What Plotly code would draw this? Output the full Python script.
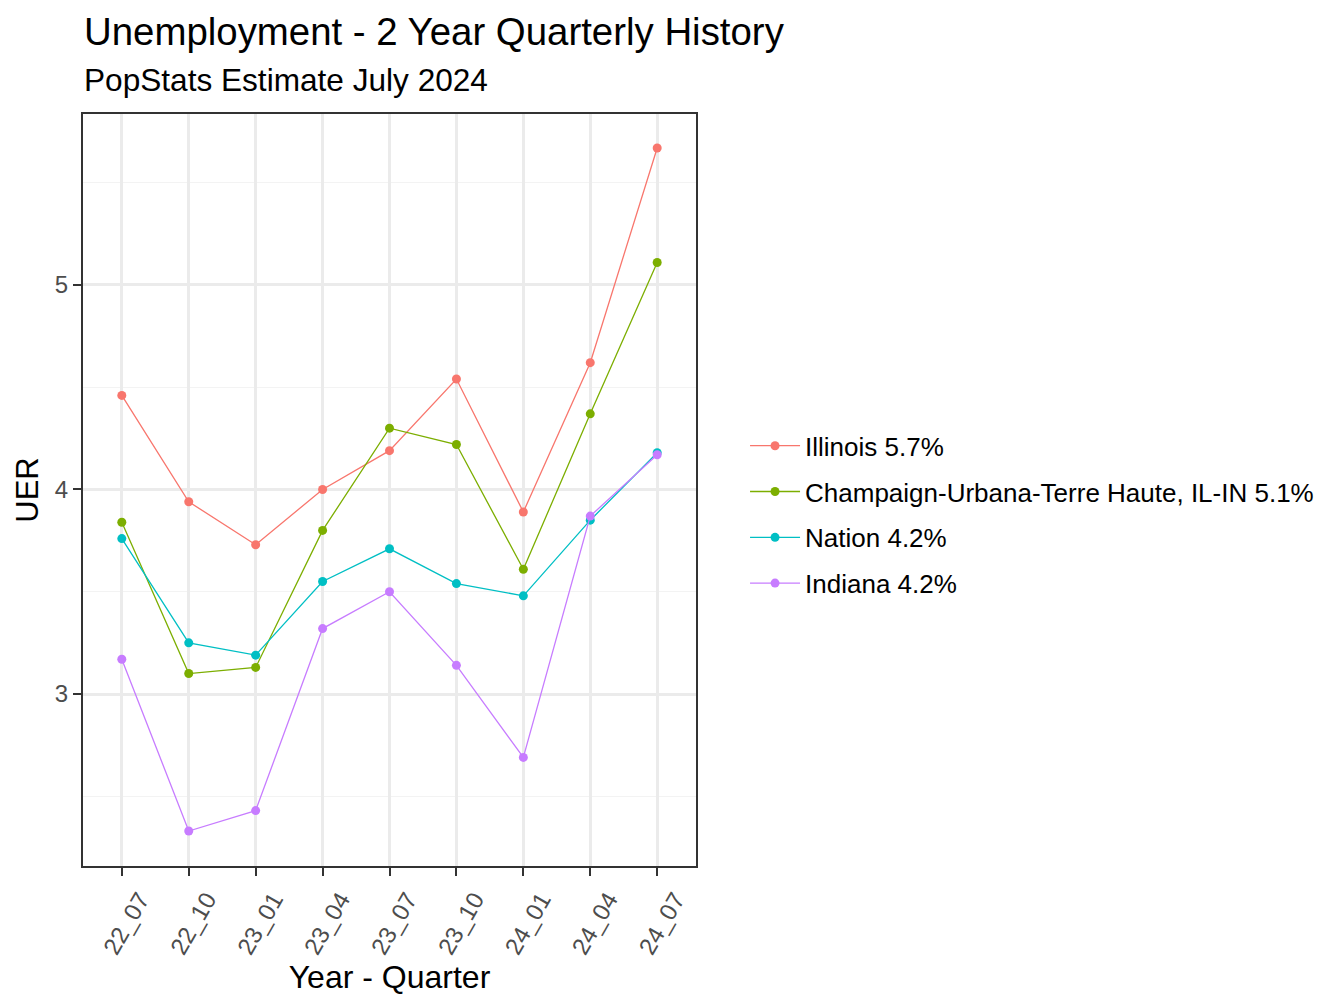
import plotly.graph_objects as go

quarters = ["22_07", "22_10", "23_01", "23_04", "23_07", "23_10", "24_01", "24_04", "24_07"]

illinois = [4.46, 3.94, 3.73, 4.00, 4.19, 4.54, 3.89, 4.62, 5.67]
champaign = [3.84, 3.10, 3.13, 3.80, 4.30, 4.22, 3.61, 4.37, 5.11]
nation = [3.76, 3.25, 3.19, 3.55, 3.71, 3.54, 3.48, 3.85, 4.18]
indiana = [3.17, 2.33, 2.43, 3.32, 3.50, 3.14, 2.69, 3.87, 4.17]

series_names = ["Illinois 5.7%", "Champaign-Urbana-Terre Haute, IL-IN 5.1%",
                "Nation 4.2%", "Indiana 4.2%"]
series_vals = [illinois, champaign, nation, indiana]
colors = ["#F8766D", "#7CAE00", "#00BFC4", "#C77CFF"]

fig = go.Figure()
for name, vals, col in zip(series_names, series_vals, colors):
    fig.add_trace(go.Scatter(x=quarters, y=vals, name=name, legendgroup=name,
                             mode="lines+markers",
                             line=dict(color=col, width=1.3),
                             marker=dict(color=col, size=9)))

# page is offset by the 8px body margin, so margins are shifted
fig.update_layout(
    width=1344, height=1008,
    margin=dict(l=75, r=656, t=106, b=150),
    plot_bgcolor="white", paper_bgcolor="white",
    font=dict(family="Liberation Sans, Arial", color="black"),
    showlegend=True,
    legend=dict(x=1.08, y=0.467, xanchor="left", yanchor="middle",
                font=dict(size=26, color="black"), tracegroupgap=9,
                itemwidth=50, bgcolor="rgba(0,0,0,0)"),
)
fig.update_xaxes(
    showline=True, linecolor="#333333", linewidth=2, mirror=True,
    showgrid=True, gridcolor="#EBEBEB", gridwidth=2.5,
    ticks="outside", ticklen=8, tickcolor="#333333", tickwidth=2,
    tickangle=-60, tickfont=dict(size=24, color="#4D4D4D"), ticklabelshift=18,
    title=dict(text="Year - Quarter", font=dict(size=32), standoff=3),
    range=[-0.58, 8.58],
)
fig.update_yaxes(
    showline=True, linecolor="#333333", linewidth=2, mirror=True,
    showgrid=True, gridcolor="#EBEBEB", gridwidth=2.5,
    dtick=1, tick0=0, range=[2.159, 5.836],
    minor=dict(dtick=0.5, tick0=0, showgrid=True, gridcolor="#F3F3F3", gridwidth=1.2),
    ticks="outside", ticklen=8, tickcolor="#333333", tickwidth=2,
    tickfont=dict(size=24, color="#4D4D4D"),
    title=dict(text="UER", font=dict(size=31), standoff=7),
    zeroline=False,
)
fig.add_annotation(text="Unemployment - 2 Year Quarterly History", xref="paper", yref="paper",
                   x=0, y=1.0, xshift=-1, yshift=83, xanchor="left", yanchor="middle",
                   showarrow=False, font=dict(size=38.4, color="black"))
fig.add_annotation(text="PopStats Estimate July 2024", xref="paper", yref="paper",
                   x=0, y=1.0, xshift=-1, yshift=34, xanchor="left", yanchor="middle",
                   showarrow=False, font=dict(size=31.6, color="black"))

fig.write_html("out.html")
